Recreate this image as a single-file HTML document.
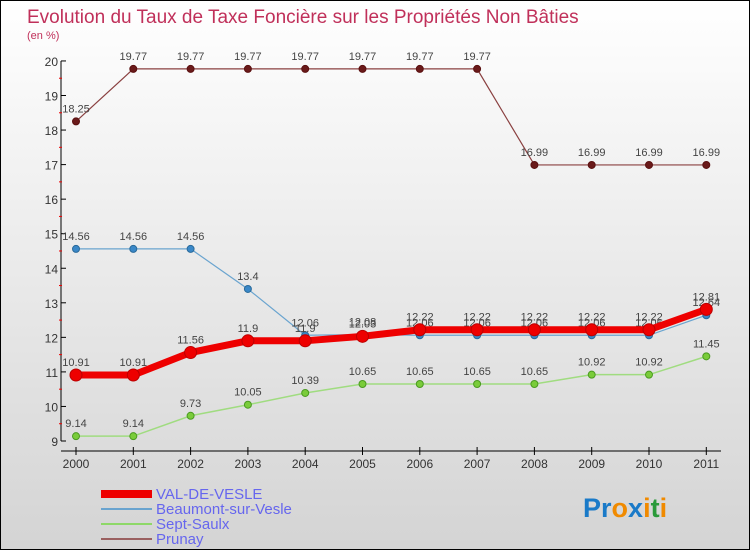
<!DOCTYPE html>
<html><head><meta charset="utf-8"><style>
body{margin:0}
#c{width:748px;height:548px;border:1px solid #000;background:linear-gradient(#fff,#d4d4d4);position:relative;font-family:"Liberation Sans",sans-serif}
svg text{font-family:"Liberation Sans",sans-serif}
</style></head><body>
<div id="c">
<svg id="s" width="748" height="548" xmlns="http://www.w3.org/2000/svg">
<text x="26" y="22" font-size="19" fill="#c0305a">Evolution du Taux de Taxe Foncière sur les Propriétés Non Bâties</text>
<text x="26" y="38" font-size="11" fill="#c0305a">(en %)</text>
<g id="axes"></g><g id="series"></g>
<g>
<rect x="100" y="489" width="51" height="8" fill="#e00"/>
<text x="155" y="498" font-size="15" fill="#6666ee">VAL-DE-VESLE</text>
<line x1="100" x2="151" y1="508" y2="508" stroke="#6aa4cf" stroke-width="2"/>
<text x="155" y="513" font-size="15" fill="#6666ee">Beaumont-sur-Vesle</text>
<line x1="100" x2="151" y1="523" y2="523" stroke="#8ed868" stroke-width="2"/>
<text x="155" y="528" font-size="15" fill="#6666ee">Sept-Saulx</text>
<line x1="100" x2="151" y1="538" y2="538" stroke="#9a6060" stroke-width="2"/>
<text x="155" y="543" font-size="15" fill="#6666ee">Prunay</text>
</g>
<text x="582" y="516" font-size="27" font-weight="bold"><tspan fill="#1a7ac8">Pr</tspan><tspan fill="#f08a00">o</tspan><tspan fill="#1a7ac8">x</tspan><tspan fill="#f08a00">i</tspan><tspan fill="#2a9a3a">t</tspan><tspan fill="#f08a00">i</tspan></text>
</svg></div>
<script>
const years=["2000","2001","2002","2003","2004","2005","2006","2007","2008","2009","2010","2011"];
const yTicks=[9,10,11,12,13,14,15,16,17,18,19,20];
const valDeVesle=[10.91,10.91,11.56,11.9,11.9,12.03,12.22,12.22,12.22,12.22,12.22,12.81];
const beaumont=[14.56,14.56,14.56,13.4,12.06,12.08,12.06,12.06,12.06,12.06,12.06,12.64];
const septSaulx=[9.14,9.14,9.73,10.05,10.39,10.65,10.65,10.65,10.65,10.92,10.92,11.45];
const prunay=[18.25,19.77,19.77,19.77,19.77,19.77,19.77,19.77,16.99,16.99,16.99,16.99];
const NS="http://www.w3.org/2000/svg";
function X(i){return 75+i*57.3}
function Y(v){return 440-(v-9)*34.55}
function mk(t,a,p){const e=document.createElementNS(NS,t);for(const k in a)e.setAttribute(k,a[k]);p.appendChild(e);return e}
const ax=document.getElementById('axes'),sg=document.getElementById('series');
let l=mk('line',{x1:60,x2:60,y1:Y(20),y2:Y(9),stroke:'#000'},ax);


l=mk('line',{x1:60,x2:720,y1:450,y2:450,stroke:'#000'},ax);


yTicks.forEach(v=>{
 mk('line',{x1:60,x2:65,y1:Y(v),y2:Y(v),stroke:'#000'},ax);
 if(v<20)mk('line',{x1:58,x2:61,y1:Y(v+0.5),y2:Y(v+0.5),stroke:'#e00'},ax);
 const t=mk('text',{x:57,y:Y(v)+5,'font-size':12,'text-anchor':'end',fill:'#333'},ax);t.textContent=v;
 
 
});
years.forEach((y,i)=>{
 mk('line',{x1:X(i),x2:X(i),y1:446,y2:454,stroke:'#000'},ax);
 const t=mk('text',{x:X(i),y:467,'font-size':12,'text-anchor':'middle',fill:'#333'},ax);t.textContent=y;
 
 
});
function series(d,name,col,w,r,dot,stroke){
 const g=mk('g',{},sg);
 
 
 mk('polyline',{points:d.map((v,i)=>X(i)+','+Y(v)).join(' '),fill:'none',stroke:col,'stroke-width':w},g);
 d.forEach((v,i)=>{
  const c=mk('circle',{cx:X(i),cy:Y(v),r:r,fill:dot,stroke:stroke},g);
  
  
  const t=mk('text',{x:X(i),y:Y(v)-9,'font-size':11,'text-anchor':'middle',fill:'#444'},g);t.textContent=v;
  
  
 });
}
series(prunay,'prunay','#8a4040',1.2,3.5,'#6a1a1a','#5a1010');
series(septSaulx,'sept-saulx','#a0dc80',1.5,3.5,'#7acc3a','#4a9a20');
series(beaumont,'beaumont','#6aa4cf',1.2,3.5,'#3a88c8','#2a6a9a');
series(valDeVesle,'val-de-vesle','#e00',7,6,'#e00','#b00');
</script>
</body></html>
